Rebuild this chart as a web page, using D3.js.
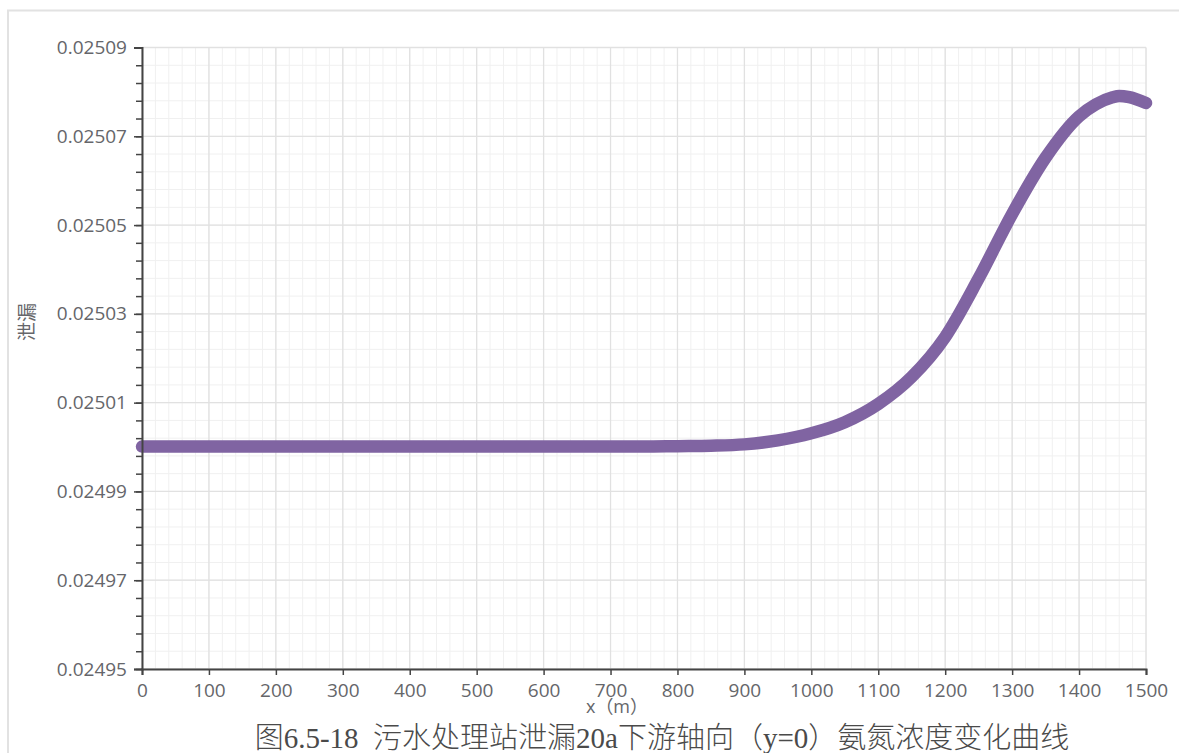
<!DOCTYPE html>
<html>
<head>
<meta charset="utf-8">
<script src="https://cdn.jsdelivr.net/npm/d3@7"></script>
<style>
  html, body { margin: 0; padding: 0; background: #ffffff; }
  svg { display: block; }
</style>
</head>
<body>
<svg id="chart" width="1179" height="753"></svg>
<script>
// ---- data ----
const xValues = [0, 50, 100, 150, 200, 250, 300, 350, 400, 450, 500, 550, 600, 650, 700, 750, 800,
                 850, 900, 950, 1000, 1050, 1100, 1150, 1200, 1250, 1300, 1350, 1400, 1425, 1450, 1460, 1475, 1500];
const concValues = [0.0250001, 0.0250001, 0.0250001, 0.0250001, 0.0250001, 0.0250001, 0.0250001, 0.0250001,
                    0.0250001, 0.0250001, 0.0250001, 0.0250001, 0.0250001, 0.0250001, 0.0250001, 0.0250001, 0.0250002,
                    0.0250003, 0.0250006, 0.0250015, 0.0250031, 0.0250056, 0.0250097, 0.0250158, 0.0250248,
                    0.0250380, 0.0250525, 0.0250652, 0.0250745, 0.0250772, 0.0250788, 0.0250791, 0.0250788, 0.0250775];
const xTicks = [0, 100, 200, 300, 400, 500, 600, 700, 800, 900, 1000, 1100, 1200, 1300, 1400, 1500];
const yTicks = [0.02495, 0.02497, 0.02499, 0.02501, 0.02503, 0.02505, 0.02507, 0.02509];
const yTickLabels = ["0.02495", "0.02497", "0.02499", "0.02501", "0.02503", "0.02505", "0.02507", "0.02509"];
const xAxisTitle = "x（m）";
const yAxisTitle = "泄漏";
const caption = "图6.5-18  污水处理站泄漏20a下游轴向（y=0）氨氮浓度变化曲线";

// ---- layout ----
const svg = d3.select("#chart");
const pLeft = 142, pRight = 1146, pTop = 47.5, pBottom = 669;

const x = d3.scaleLinear().domain([0, 1500]).range([pLeft, pRight]);
const y = d3.scaleLinear().domain([0.02495, 0.02509]).range([pBottom, pTop]);

// outer frame
svg.append("path")
  .attr("d", `M8,753 L8,10.5 L1179,10.5`)
  .attr("fill", "none").attr("stroke", "#e2e2e2").attr("stroke-width", 2);

// minor grid
const xMinor = d3.range(0, 1500.001, 20);
const yMinor = d3.range(0, 36).map(i => 0.02495 + i * 0.000004);
const grid = svg.append("g");
grid.selectAll(".xm").data(xMinor).enter().append("line")
  .attr("x1", d => x(d)).attr("x2", d => x(d)).attr("y1", pTop).attr("y2", pBottom)
  .attr("stroke", "#f0f0f0").attr("stroke-width", 1);
grid.selectAll(".ym").data(yMinor).enter().append("line")
  .attr("x1", pLeft).attr("x2", pRight).attr("y1", d => y(d)).attr("y2", d => y(d))
  .attr("stroke", "#f0f0f0").attr("stroke-width", 1);
// major grid
grid.selectAll(".xM").data(xTicks).enter().append("line")
  .attr("x1", d => x(d)).attr("x2", d => x(d)).attr("y1", pTop).attr("y2", pBottom)
  .attr("stroke", "#e1e1e1").attr("stroke-width", 1.3);
grid.selectAll(".yM").data(yTicks).enter().append("line")
  .attr("x1", pLeft).attr("x2", pRight).attr("y1", d => y(d)).attr("y2", d => y(d))
  .attr("stroke", "#e1e1e1").attr("stroke-width", 1.3);

// curve
const pts = xValues.map((v, i) => [v, concValues[i]]);
svg.append("path")
  .datum(pts)
  .attr("d", d3.line().x(d => x(d[0])).y(d => y(d[1])).curve(d3.curveMonotoneX))
  .attr("fill", "none")
  .attr("stroke", "#8064a2")
  .attr("stroke-width", 12.5)
  .attr("stroke-linecap", "round")
  .attr("stroke-linejoin", "round");

// axes
const tickFont = "'Open Sans', 'Noto Sans', sans-serif";
const tickColor = "#65666a";
const yAxisMinor = d3.axisLeft(y).tickValues(yMinor).tickSize(6).tickFormat("");
svg.append("g").attr("transform", `translate(${pLeft},0)`).call(yAxisMinor)
  .call(g => g.select(".domain").remove())
  .call(g => g.selectAll(".tick line").attr("stroke", "#444").attr("stroke-width", 1.5));

const yAxis = d3.axisLeft(y).tickValues(yTicks).tickSize(8).tickPadding(7)
  .tickFormat((d, i) => yTickLabels[i]);
svg.append("g").attr("transform", `translate(${pLeft},0)`).call(yAxis)
  .call(g => g.select(".domain").attr("stroke", "#444").attr("stroke-width", 2))
  .call(g => g.selectAll(".tick line").attr("stroke", "#444").attr("stroke-width", 1.5))
  .call(g => g.selectAll(".tick text").attr("font-family", tickFont).attr("font-size", 19)
    .attr("fill", tickColor));

const xAxis = d3.axisBottom(x).tickValues(xTicks).tickSize(6).tickPadding(9).tickFormat(d3.format("d"));
svg.append("g").attr("transform", `translate(0,${pBottom})`).call(xAxis)
  .call(g => g.select(".domain").attr("stroke", "#444").attr("stroke-width", 2))
  .call(g => g.selectAll(".tick line").attr("stroke", "#444").attr("stroke-width", 1.5))
  .call(g => g.selectAll(".tick text").attr("font-family", tickFont).attr("font-size", 19)
    .attr("fill", tickColor));

// axis titles
svg.append("text")
  .attr("x", 617).attr("y", 713)
  .attr("text-anchor", "middle")
  .attr("font-family", "'Open Sans', 'Noto Sans CJK SC', sans-serif")
  .attr("font-size", 18).attr("fill", tickColor)
  .text(xAxisTitle);

svg.append("text")
  .attr("transform", "translate(34,322) rotate(-90)")
  .attr("text-anchor", "middle")
  .attr("font-family", "'Noto Sans CJK SC', sans-serif")
  .attr("font-size", 19).attr("fill", tickColor)
  .text(yAxisTitle);

// caption
svg.append("text")
  .attr("x", 662).attr("y", 748)
  .attr("text-anchor", "middle")
  .attr("xml:space", "preserve")
  .style("white-space", "pre")
  .attr("font-family", "'Liberation Serif', 'Noto Sans CJK SC', serif")
  .attr("font-weight", 300)
  .attr("font-size", 29).attr("fill", "#4a4a4a")
  .text(caption);
</script>
</body>
</html>
